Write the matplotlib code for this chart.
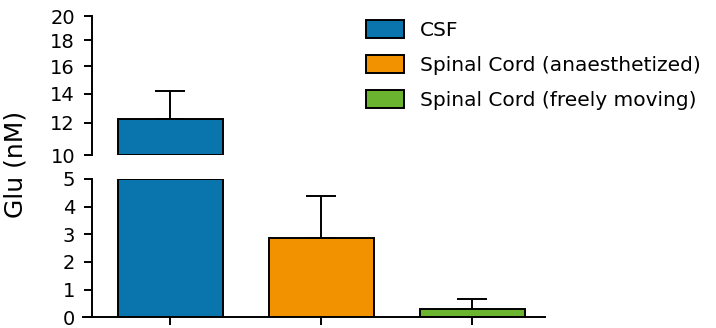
import numpy as np
import matplotlib
matplotlib.use("Agg")
import matplotlib.pyplot as plt
from matplotlib.patches import Patch

plt.rcParams['font.family'] = ['DejaVu Sans']

categories = ["CSF", "Spinal Cord (anaesthetized)", "Spinal Cord (freely moving)"]
means = [12.28, 2.88, 0.29]
errors = [1.87, 1.50, 0.36]
colors = ["#0a75ad", "#f39200", "#6ab42f"]
upper_ticks = [10, 12, 14, 16, 18, 20]
lower_ticks = [0, 1, 2, 3, 4, 5]
lower_lim = (0, 5)
upper_lim = (10, 20)

W, H = 716, 328
fig = plt.figure(figsize=(W / 100, H / 100), dpi=100)

ax_left, ax_right = 83, 545
spine_x = 91.7
x0_px, dx_px = 170, 151

def fx(px):
    return px / W

def fy(py):
    return 1 - py / H

lw = 1.4
ax_lo = fig.add_axes([fx(ax_left), fy(317.3), fx(ax_right - ax_left), (317.3 - 179) / H])
ax_hi = fig.add_axes([fx(ax_left), fy(155), fx(ax_right - ax_left), (155 - 16) / H])

x = np.arange(len(categories))
xlim = (-(x0_px - ax_left) / dx_px, (ax_right - x0_px) / dx_px)
bw = 105 / dx_px
m = np.array(means)

for ax, (lo, hi) in ((ax_lo, lower_lim), (ax_hi, upper_lim)):
    vis = m > lo
    tops = np.minimum(m[vis], hi)
    ax.bar(x[vis], tops - lo, bottom=lo, width=bw, color=np.array(colors)[vis],
           edgecolor="black", linewidth=lw, zorder=2)
    ax.errorbar(x, means, yerr=[np.zeros(len(means)), errors], fmt="none", ecolor="black",
                elinewidth=lw, capsize=10.5, capthick=lw, zorder=1)
    ax.set_xlim(*xlim)
    ax.spines['top'].set_visible(False)
    ax.spines['right'].set_visible(False)
    ax.spines['left'].set_position(('axes', (spine_x - ax_left) / (ax_right - ax_left)))
    ax.spines['left'].set_linewidth(lw)
    ax.spines['bottom'].set_linewidth(lw)
    ax.tick_params(axis='y', length=6, width=lw, pad=6, labelsize=14, direction='out')
    ax.tick_params(axis='x', length=6, width=lw, direction='out')
    ax.patch.set_alpha(0)

ax_lo.set_ylim(*lower_lim)
ax_lo.set_yticks(lower_ticks)
ax_lo.set_xticks(x)
ax_lo.set_xticklabels([])

ax_hi.set_yscale('function', functions=(np.sqrt, np.square))
ax_hi.set_ylim(*upper_lim)
ax_hi.set_yticks(upper_ticks)
ax_hi.set_yticklabels([str(t) for t in upper_ticks])
ax_hi.yaxis.set_minor_locator(matplotlib.ticker.NullLocator())
ax_hi.spines['bottom'].set_visible(False)
ax_hi.set_xticks([])

fig.text(fx(16), fy(164), "Glu (nM)", rotation=90, ha='center', va='center', fontsize=18)

handles = [Patch(facecolor=c, edgecolor='black', linewidth=lw) for c in colors]
fs = 14.5
fspx = fs * 100 / 72
fig.legend(handles, categories, loc='upper left', bbox_to_anchor=(fx(366), fy(20)),
           frameon=False, fontsize=fs, borderpad=0, borderaxespad=0,
           handlelength=38 / fspx, handleheight=20 / fspx, handletextpad=16 / fspx,
           labelspacing=15 / fspx)

fig.savefig("out.png", dpi=100)
